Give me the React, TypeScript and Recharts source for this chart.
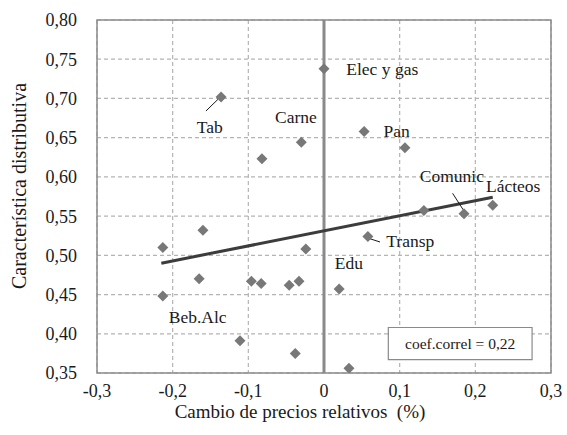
import {
  ScatterChart, Scatter, XAxis, YAxis, CartesianGrid,
  ReferenceLine, ReferenceArea, Label,
} from 'recharts'

// cambio de precios relativos (%) y característica distributiva por grupo
const priceChange = [
  0.0, -0.136, -0.03, -0.082, 0.053, 0.107, 0.223, 0.185, 0.132, 0.058, 0.02, 0.033,
  -0.213, -0.16, -0.024, -0.165, -0.096, -0.083, -0.046, -0.033, -0.213, -0.111, -0.038,
]
const distChar = [
  0.738, 0.702, 0.644, 0.623, 0.658, 0.637, 0.564, 0.553, 0.557, 0.524, 0.457, 0.356,
  0.51, 0.532, 0.508, 0.47, 0.467, 0.464, 0.462, 0.467, 0.448, 0.391, 0.375,
]

const trendX = [-0.215, 0.223]
const trendY = [0.49, 0.574]

const xTicks = [-0.3, -0.2, -0.1, 0, 0.1, 0.2, 0.3]
const yTicks = [0.35, 0.4, 0.45, 0.5, 0.55, 0.6, 0.65, 0.7, 0.75, 0.8]

const labelNames = ['Elec y gas', 'Tab', 'Carne', 'Pan', 'Comunic', 'Lácteos', 'Transp', 'Edu', 'Beb.Alc']
const labelX = [0.077, -0.151, -0.037, 0.096, 0.169, 0.25, 0.114, 0.033, -0.167]
const labelY = [0.7375, 0.664, 0.676, 0.658, 0.601, 0.588, 0.518, 0.49, 0.421]

// leader lines: [x1, y1, x2, y2]
const leaders = [
  [-0.156, 0.684, -0.14, 0.699],
  [0.058, 0.522, 0.074, 0.517],
  [0.17, 0.579, 0.184, 0.558],
]

const coefText = 'coef.correl = 0,22'

const points = priceChange.map((x, i) => ({ x, y: distChar[i] }))
const labels = labelNames.map((name, i) => ({ x: labelX[i], y: labelY[i], name }))

const FONT = "'Liberation Serif', 'DejaVu Serif', serif"
const comma = (v: number, d: number) => v.toFixed(d).replace('.', ',')

function Diamond(props: { cx?: number; cy?: number }) {
  const { cx, cy } = props
  if (cx == null || cy == null) return null
  const r = 5.5
  return (
    <polygon
      points={`${cx},${cy - r} ${cx + r},${cy} ${cx},${cy + r} ${cx - r},${cy}`}
      fill="#787878"
    />
  )
}

function NameText(props: { cx?: number; cy?: number; payload?: { name: string } }) {
  const { cx, cy, payload } = props
  if (cx == null || cy == null || !payload) return null
  return (
    <text x={cx} y={cy} textAnchor="middle" dominantBaseline="central"
      fontFamily={FONT} fontSize={17.5} fill="#1a1a1a">
      {payload.name}
    </text>
  )
}

export default function App() {
  return (
    <div style={{ position: 'absolute', left: 0, top: 0, background: '#fff', fontFamily: FONT }}>
      <ScatterChart width={567} height={435} margin={{ top: 20, right: 16, bottom: 0, left: 0 }}>
        <CartesianGrid stroke="#b4b4b4" strokeDasharray="4 3" strokeWidth={1.2} />
        <XAxis
          type="number" dataKey="x" domain={[-0.3, 0.3]} ticks={xTicks}
          tickFormatter={(v: number) => (v === 0 ? '0' : comma(v, 1))}
          tick={{ fontSize: 18, fill: '#1a1a1a', fontFamily: FONT }}
          axisLine={false} tickLine={false} tickSize={0} tickMargin={11} height={62}
          allowDataOverflow
        >
          <Label
            content={(p: any) => {
              const vb = p.viewBox
              return (
                <text x={vb.x + vb.width / 2 - 24} y={vb.y + 38} textAnchor="middle"
                  dominantBaseline="central" fontFamily={FONT} fontSize={19} fill="#1a1a1a">
                  Cambio de precios relativos{'\u00a0 '}(%)
                </text>
              )
            }}
          />
        </XAxis>
        <YAxis
          type="number" dataKey="y" domain={[0.35, 0.8]} ticks={yTicks}
          tickFormatter={(v: number) => comma(v, 2)}
          tick={{ fontSize: 18, fill: '#1a1a1a', fontFamily: FONT }}
          axisLine={false} tickLine={false} tickSize={0} tickMargin={20} width={97}
          allowDataOverflow
        >
          <Label
            content={() => (
              <text x={19} y={186} transform="rotate(-90 19 186)" textAnchor="middle"
                dominantBaseline="central" fontFamily={FONT} fontSize={20} fill="#1a1a1a">
                Característica distributiva
              </text>
            )}
          />
        </YAxis>
        <ReferenceArea x1={-0.3} x2={0.3} y1={0.35} y2={0.8} fill="none" stroke="#8a8a8a" strokeWidth={1.5} />
        <ReferenceLine x={0} stroke="#8a8a8a" strokeWidth={3} />
        <ReferenceLine
          segment={[{ x: trendX[0], y: trendY[0] }, { x: trendX[1], y: trendY[1] }]}
          stroke="#3c3c3c" strokeWidth={3}
        />
        {leaders.map((l, i) => (
          <ReferenceLine key={i} segment={[{ x: l[0], y: l[1] }, { x: l[2], y: l[3] }]}
            stroke="#1a1a1a" strokeWidth={1} />
        ))}
        <Scatter data={points} shape={<Diamond />} isAnimationActive={false} />
        <Scatter data={labels} shape={<NameText />} isAnimationActive={false} />
        <ReferenceArea x1={0.085} x2={0.275} y1={0.367} y2={0.408} fill="#fff" fillOpacity={1}
          stroke="#8a8a8a" strokeWidth={1.2}>
          <Label value={coefText} position="center" fontFamily={FONT} fontSize={15.5} fill="#1a1a1a" />
        </ReferenceArea>
      </ScatterChart>
    </div>
  )
}
